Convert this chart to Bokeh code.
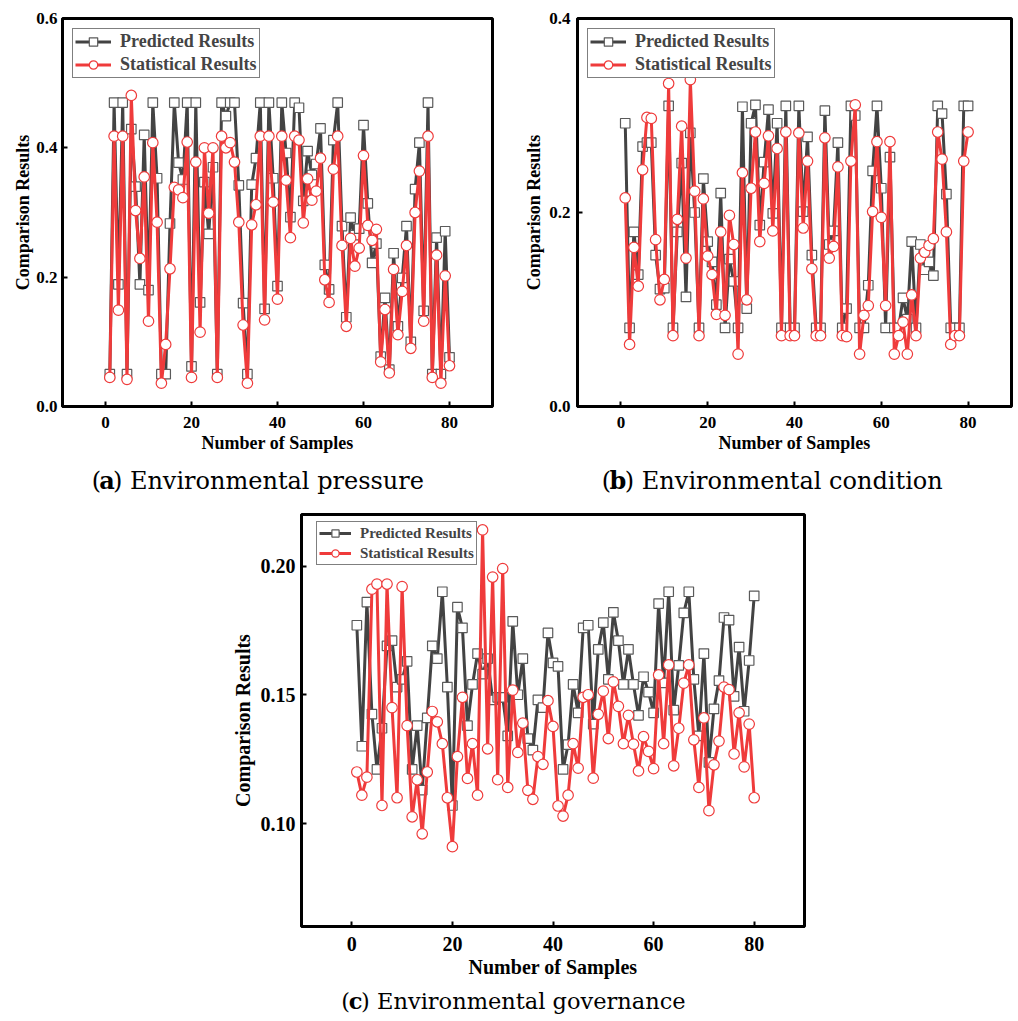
from bokeh.plotting import figure
from bokeh.layouts import column, row
from bokeh.models import (Legend, LegendItem, Label, Spacer, FixedTicker,
                          NumeralTickFormatter, Range1d)
from bokeh.embed import file_html
from bokeh.resources import INLINE

samples = list(range(1, 81))

pressure_pred = [0.05, 0.47, 0.189, 0.47, 0.05, 0.429, 0.34, 0.189, 0.42, 0.18,
                 0.47, 0.353, 0.05, 0.05, 0.283, 0.47, 0.377, 0.351, 0.47, 0.062,
                 0.47, 0.161, 0.347, 0.267, 0.37, 0.05, 0.47, 0.449, 0.47, 0.47,
                 0.342, 0.16, 0.05, 0.343, 0.384, 0.47, 0.151, 0.47, 0.353, 0.186,
                 0.47, 0.392, 0.293, 0.47, 0.462, 0.318, 0.395, 0.358, 0.375, 0.43,
                 0.219, 0.181, 0.412, 0.47, 0.279, 0.138, 0.292, 0.265, 0.275, 0.435,
                 0.314, 0.222, 0.252, 0.077, 0.168, 0.057, 0.237, 0.124, 0.199, 0.279,
                 0.1, 0.336, 0.408, 0.148, 0.47, 0.05, 0.261, 0.05, 0.271, 0.076]
pressure_stat = [0.045, 0.418, 0.149, 0.418, 0.042, 0.481, 0.303, 0.229, 0.355, 0.132,
                 0.408, 0.285, 0.036, 0.096, 0.213, 0.339, 0.335, 0.323, 0.409, 0.045,
                 0.378, 0.115, 0.4, 0.299, 0.4, 0.045, 0.418, 0.4, 0.408, 0.378,
                 0.285, 0.126, 0.036, 0.281, 0.312, 0.418, 0.134, 0.418, 0.316, 0.166,
                 0.418, 0.35, 0.261, 0.418, 0.412, 0.284, 0.352, 0.319, 0.333, 0.384,
                 0.196, 0.161, 0.367, 0.418, 0.249, 0.124, 0.26, 0.217, 0.245, 0.388,
                 0.28, 0.257, 0.274, 0.069, 0.15, 0.052, 0.212, 0.111, 0.178, 0.249,
                 0.09, 0.3, 0.364, 0.132, 0.418, 0.045, 0.234, 0.036, 0.202, 0.063]

condition_pred = [0.292, 0.081, 0.18, 0.136, 0.268, 0.272, 0.272, 0.156, 0.121, 0.122,
                  0.31, 0.081, 0.18, 0.251, 0.113, 0.282, 0.2, 0.081, 0.235, 0.17,
                  0.149, 0.105, 0.22, 0.081, 0.152, 0.129, 0.081, 0.309, 0.101, 0.292,
                  0.311, 0.187, 0.252, 0.306, 0.199, 0.292, 0.081, 0.31, 0.081, 0.081,
                  0.31, 0.201, 0.278, 0.156, 0.081, 0.081, 0.305, 0.167, 0.181, 0.272,
                  0.081, 0.101, 0.31, 0.3, 0.081, 0.081, 0.125, 0.243, 0.31, 0.225,
                  0.081, 0.257, 0.081, 0.081, 0.112, 0.09, 0.17, 0.081, 0.167, 0.141,
                  0.149, 0.135, 0.31, 0.302, 0.219, 0.081, 0.081, 0.081, 0.31, 0.31]
condition_stat = [0.215, 0.064, 0.164, 0.124, 0.244, 0.298, 0.297, 0.172, 0.11, 0.131,
                  0.333, 0.073, 0.193, 0.289, 0.153, 0.337, 0.222, 0.073, 0.214, 0.155,
                  0.136, 0.095, 0.18, 0.094, 0.197, 0.167, 0.054, 0.241, 0.11, 0.225,
                  0.283, 0.17, 0.23, 0.279, 0.181, 0.266, 0.073, 0.283, 0.073, 0.073,
                  0.282, 0.184, 0.253, 0.142, 0.073, 0.073, 0.277, 0.153, 0.165, 0.247,
                  0.073, 0.072, 0.253, 0.311, 0.054, 0.094, 0.104, 0.201, 0.273, 0.195,
                  0.104, 0.273, 0.054, 0.073, 0.087, 0.054, 0.115, 0.073, 0.153, 0.159,
                  0.166, 0.173, 0.283, 0.255, 0.18, 0.064, 0.073, 0.073, 0.253, 0.283]

governance_pred = [0.177, 0.130, 0.186, 0.1425, 0.121, 0.137, 0.169, 0.171, 0.153, 0.156,
                   0.163, 0.121, 0.138, 0.113, 0.141, 0.169, 0.164, 0.19, 0.153, 0.107,
                   0.184, 0.176, 0.138, 0.154, 0.166, 0.158, 0.164, 0.148, 0.149, 0.149,
                   0.134, 0.1785, 0.15, 0.164, 0.133, 0.1285, 0.148, 0.145, 0.174, 0.1624,
                   0.161, 0.121, 0.1306, 0.154, 0.143, 0.176, 0.177, 0.1386, 0.1676, 0.178,
                   0.156, 0.182, 0.171, 0.154, 0.1676, 0.154, 0.142, 0.157, 0.151, 0.143,
                   0.1854, 0.1546, 0.19, 0.144, 0.1614, 0.1818, 0.19, 0.156, 0.134, 0.166,
                   0.1237, 0.1445, 0.1555, 0.18, 0.179, 0.1494, 0.1685, 0.1436, 0.1633, 0.1884]
governance_stat = [0.12, 0.111, 0.118, 0.191, 0.193, 0.107, 0.193, 0.145, 0.11, 0.192,
                   0.138, 0.1026, 0.117, 0.096, 0.12, 0.1435, 0.1395, 0.131, 0.11, 0.091,
                   0.126, 0.149, 0.1175, 0.131, 0.111, 0.214, 0.129, 0.1957, 0.117, 0.199,
                   0.114, 0.1518, 0.1276, 0.139, 0.1129, 0.1094, 0.126, 0.123, 0.1477, 0.1377,
                   0.1068, 0.1029, 0.111, 0.131, 0.1215, 0.149, 0.15, 0.1176, 0.1424, 0.1514,
                   0.133, 0.155, 0.1455, 0.131, 0.142, 0.1308, 0.1204, 0.1337, 0.128, 0.1213,
                   0.1577, 0.131, 0.1616, 0.1224, 0.137, 0.1545, 0.1616, 0.1325, 0.114, 0.141,
                   0.105, 0.1228, 0.132, 0.153, 0.152, 0.127, 0.143, 0.122, 0.1386, 0.11]

x_ticks = [0, 20, 40, 60, 80]
pressure_yticks = [0.0, 0.2, 0.4, 0.6]
condition_yticks = [0.0, 0.2, 0.4]
governance_yticks = [0.10, 0.15, 0.20]

legend_labels = ["Predicted Results", "Statistical Results"]
x_label = "Number of Samples"
y_label = "Comparison Results"
captions = [("a", ") Environmental pressure"),
            ("b", ") Environmental condition"),
            ("c", ") Environmental governance")]

GRAY = "#434343"
GRAY_MK = "#5a5a5a"
RED = "#ef3b3b"
SERIF = "Liberation Serif"
CAP_FONT = "DejaVu Serif"


def make_panel(pred, stat, yr, yticks, yfmt, fw, fh, mbl, mbr, mbt, mbb,
               tick_fs, lab_fs, leg_fs, leg_row, glyph_w, leg_loc, leg_margin,
               y_std, y_lab_std):
    p = figure(frame_width=fw, frame_height=fh, x_range=Range1d(-10, 90),
               y_range=Range1d(*yr), output_backend="svg", toolbar_location=None,
               min_border_left=mbl, min_border_right=mbr, min_border_top=mbt,
               min_border_bottom=mbb)
    p.grid.visible = False
    p.outline_line_color = "black"
    p.outline_line_width = 3
    p.background_fill_color = "white"
    p.border_fill_color = "white"

    l1 = p.line(samples, pred, line_color=GRAY, line_width=3)
    s1 = p.scatter(samples, pred, marker="square", size=9.5, fill_color="white",
                   line_color=GRAY_MK, line_width=1.2)
    l2 = p.line(samples, stat, line_color=RED, line_width=3)
    s2 = p.scatter(samples, stat, marker="circle", size=10.5, fill_color="white",
                   line_color=RED, line_width=1.2)

    for ax in (p.xaxis[0], p.yaxis[0]):
        ax.axis_line_color = "black"
        ax.axis_line_width = 3
        ax.major_tick_in = 5
        ax.major_tick_out = 0
        ax.major_tick_line_width = 2
        ax.minor_tick_line_color = None
        ax.major_label_text_font = SERIF
        ax.major_label_text_font_style = "bold"
        ax.major_label_text_font_size = f"{tick_fs}px"
        ax.major_label_text_color = "black"
        ax.axis_label_text_font = SERIF
        ax.axis_label_text_font_style = "bold"
        ax.axis_label_text_font_size = f"{lab_fs}px"
        ax.axis_label_text_color = "black"
    p.xaxis.ticker = FixedTicker(ticks=x_ticks)
    p.yaxis.ticker = FixedTicker(ticks=yticks)
    p.yaxis.formatter = NumeralTickFormatter(format=yfmt)
    p.xaxis.axis_label = x_label
    p.yaxis.axis_label = y_label
    p.xaxis.major_label_standoff = 10
    p.xaxis.axis_label_standoff = 2
    p.yaxis.major_label_standoff = y_std
    p.yaxis.axis_label_standoff = y_lab_std

    legend = Legend(items=[LegendItem(label=legend_labels[0], renderers=[l1, s1]),
                           LegendItem(label=legend_labels[1], renderers=[l2, s2])],
                    location=leg_loc, margin=leg_margin, padding=2, spacing=2,
                    glyph_width=glyph_w, glyph_height=leg_row, label_height=leg_row,
                    label_standoff=9, border_line_color="black", border_line_width=1,
                    background_fill_alpha=1.0,
                    label_text_font=SERIF, label_text_font_style="bold",
                    label_text_font_size=f"{leg_fs}px")
    p.add_layout(legend)
    return p


def make_caption(width, height, letter, rest, center_px, half_px, base_from_top, fs):
    c = figure(width=width, height=height, x_range=Range1d(0, width),
               y_range=Range1d(0, height), x_axis_type=None, y_axis_type=None,
               output_backend="svg", toolbar_location=None, min_border=0)
    c.outline_line_color = None
    c.grid.visible = False
    y = height - base_from_top
    common = dict(y=y, text_font=CAP_FONT, text_font_size=f"{fs}px",
                  text_baseline="alphabetic", text_color="black")
    c.add_layout(Label(x=center_px - half_px, text="(", text_align="right", **common))
    c.add_layout(Label(x=center_px, text=letter, text_align="center",
                       text_font_style="bold", **common))
    c.add_layout(Label(x=center_px + half_px, text=rest, text_align="left", **common))
    return c


pa = make_panel(pressure_pred, pressure_stat, (0, 0.6), pressure_yticks, "0.0",
                430, 388, 62, 20, 18, 56, 17, 18, 18, 21, 36, "top_left", 10, 5, 0)
pb = make_panel(condition_pred, condition_stat, (0, 0.4), condition_yticks, "0.0",
                434, 388, 65, 5, 18, 56, 17, 18, 18, 21, 36, "top_left", 10, 7, 2)
pc = make_panel(governance_pred, governance_stat, (0.06, 0.22), governance_yticks, "0.00",
                503, 412, 70, 10, 9, 60, 20, 20, 15, 18, 32, (15, 361), 0, 6, 4)

ca = make_caption(512, 43, captions[0][0], captions[0][1], 53, 7, 18, 24)
cb = make_caption(504, 43, captions[1][0], captions[1][1], 47, 8, 18, 24)
cc = make_caption(583, 34, captions[2][0], captions[2][1], 63, 6.5, 14, 22.5)

layout = column(row(column(pa, ca), column(pb, cb)),
                row(Spacer(width=228, height=10), column(pc, cc)))

open("out.html", "w").write(file_html(layout, INLINE))
